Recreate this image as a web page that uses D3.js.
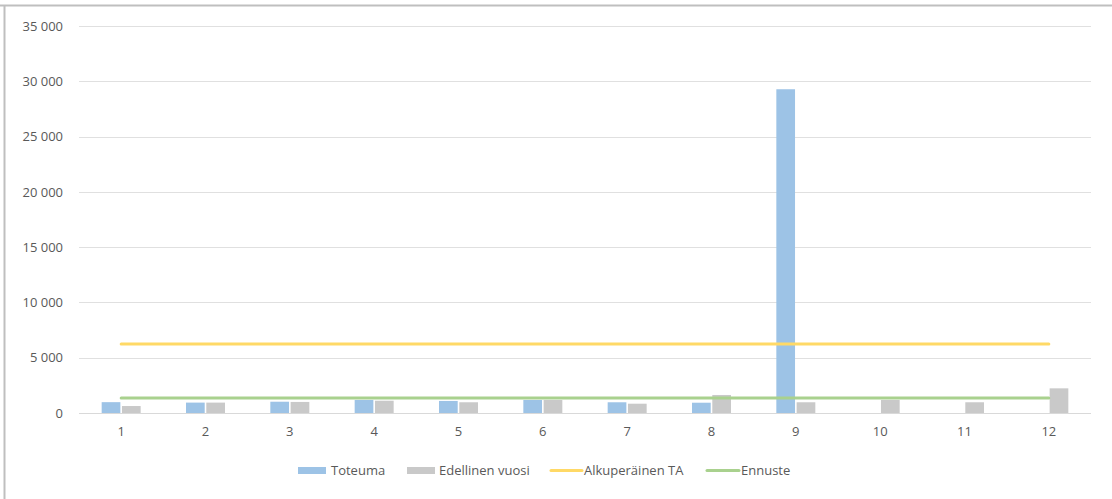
<!DOCTYPE html>
<html><head><meta charset="utf-8">
<script src="https://cdn.jsdelivr.net/npm/d3@7"></script>
<style>
html,body{margin:0;padding:0;background:#fff;}
svg{display:block;font-family:"Open Sans","Segoe UI",sans-serif;}
</style></head>
<body><svg id="c" width="1112" height="499"></svg>
<script>
const categories = ["1","2","3","4","5","6","7","8","9","10","11","12"];
const toteuma = [980, 940, 1020, 1180, 1090, 1180, 970, 930, 29280, null, null, null];
const edellinen = [630, 940, 1000, 1110, 970, 1180, 840, 1630, 970, 1180, 970, 2230];
const alkuperainenTA = [6240, 6240, 6240, 6240, 6240, 6240, 6240, 6240, 6240, 6240, 6240, 6240];
const ennuste = [1360, 1360, 1360, 1360, 1360, 1360, 1360, 1360, 1360, 1360, 1360, 1360];
const yTicks = [0, 5000, 10000, 15000, 20000, 25000, 30000, 35000];
const seriesNames = ["Toteuma", "Edellinen vuosi", "Alkuperäinen TA", "Ennuste"];
const colors = {blue:"#9DC3E6", gray:"#C9C9C9", yellow:"#FFD966", green:"#A9D18E"};

(function(){
const svg = d3.select("#c");
const mLeft = 79, mRight = 1091, mTop = 26, mBottom = 413;
const fs = "13px";

// frame
svg.append("line").attr("x1",0).attr("x2",1112).attr("y1",5.5).attr("y2",5.5).attr("stroke","#BFBFBF").attr("stroke-width",2);
svg.append("line").attr("x1",4.5).attr("x2",4.5).attr("y1",5).attr("y2",499).attr("stroke","#BFBFBF").attr("stroke-width",2);

const x = d3.scaleBand().domain(categories).range([mLeft, mRight]).paddingInner(0).paddingOuter(0);
const y = d3.scaleLinear().domain([0, 35000]).range([mBottom, mTop]);
const fmt = v => d3.format(",")(v).replace(/,/g, "\u00a0");

// gridlines
svg.append("g").selectAll("line").data(yTicks.filter(d=>d>0)).join("line")
  .attr("x1", mLeft).attr("x2", mRight)
  .attr("y1", d=>Math.round(y(d))+0.5).attr("y2", d=>Math.round(y(d))+0.5)
  .attr("stroke", "#E0E0E0").attr("stroke-width", 1);

// y axis labels
const yAxis = d3.axisLeft(y).tickValues(yTicks).tickFormat(fmt).tickSize(0).tickPadding(0);
const gy = svg.append("g").attr("transform", `translate(${63},0)`).call(yAxis);
gy.select(".domain").remove();
gy.selectAll("text").attr("fill", "#595959").style("font-size", fs).style("font-family", "'Open Sans','Segoe UI',sans-serif");

// bars
const barW = 18.7, gap = 1.6;
const cx = d => x(d) + x.bandwidth()/2;
svg.append("g").selectAll("rect").data(categories.map((c,i)=>({c, v:toteuma[i]})).filter(d=>d.v!=null)).join("rect")
  .attr("x", d=>cx(d.c) - barW - gap/2).attr("width", barW)
  .attr("y", d=>y(d.v)).attr("height", d=>y(0)-y(d.v)).attr("fill", colors.blue);
svg.append("g").selectAll("rect").data(categories.map((c,i)=>({c, v:edellinen[i]}))).join("rect")
  .attr("x", d=>cx(d.c) + gap/2).attr("width", barW)
  .attr("y", d=>y(d.v)).attr("height", d=>y(0)-y(d.v)).attr("fill", colors.gray);

// x axis line
svg.append("line").attr("x1", mLeft).attr("x2", mRight).attr("y1", Math.round(y(0))+0.5).attr("y2", Math.round(y(0))+0.5)
  .attr("stroke", "#D9D9D9").attr("stroke-width", 1);

// x labels
const xAxis = d3.axisBottom(x).tickSize(0).tickPadding(0);
const gx = svg.append("g").attr("transform", `translate(0,${431})`).call(xAxis);
gx.select(".domain").remove();
gx.selectAll("text").attr("fill", "#595959").attr("dy", "0.35em").style("font-size", fs).style("font-family", "'Open Sans','Segoe UI',sans-serif");

// lines
const line = d3.line().x((d,i)=>cx(categories[i])).y(d=>y(d));
svg.append("path").datum(alkuperainenTA).attr("d", line).attr("fill","none").attr("stroke", colors.yellow).attr("stroke-width", 3).attr("stroke-linecap","round");
svg.append("path").datum(ennuste).attr("d", line).attr("fill","none").attr("stroke", colors.green).attr("stroke-width", 3).attr("stroke-linecap","round");

// legend
const lg = svg.append("g").style("font-size",fs).attr("fill","#595959");
const ly = 470.5;
const items = [
  {name:seriesNames[0], type:"rect", color:colors.blue, x0:298, x1:326, tx:331},
  {name:seriesNames[1], type:"rect", color:colors.gray, x0:407, x1:435, tx:439},
  {name:seriesNames[2], type:"line", color:colors.yellow, x0:551, x1:582, tx:584},
  {name:seriesNames[3], type:"line", color:colors.green, x0:707, x1:739, tx:741}
];
items.forEach(it=>{
  if(it.type==="rect"){
    lg.append("rect").attr("x", it.x0).attr("y", ly-3.5).attr("width", it.x1-it.x0).attr("height", 7).attr("fill", it.color);
  } else {
    lg.append("line").attr("x1", it.x0).attr("x2", it.x1).attr("y1", ly).attr("y2", ly).attr("stroke", it.color).attr("stroke-width", 3).attr("stroke-linecap","round");
  }
  lg.append("text").attr("x", it.tx).attr("y", ly).attr("dy","0.35em").text(it.name);
});
})();
</script></body></html>
